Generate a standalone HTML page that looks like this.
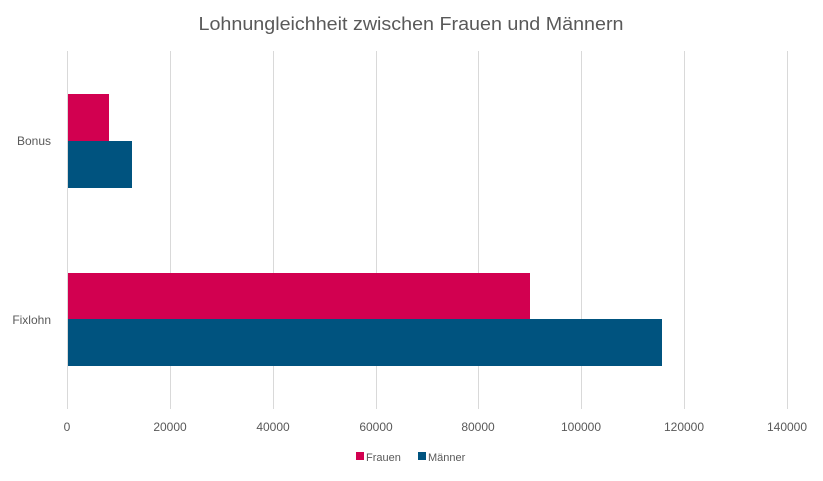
<!DOCTYPE html>
<html><head><meta charset="utf-8"><style>
body{margin:0;background:#fff;}
svg text{font-family:"Liberation Sans",sans-serif;fill:#595959;}
</style></head><body>
<svg width="823" height="476" xmlns="http://www.w3.org/2000/svg">
<rect width="823" height="476" fill="#fff"/>
<text x="411" y="30" font-size="18" text-anchor="middle" textLength="425" lengthAdjust="spacingAndGlyphs">Lohnungleichheit zwischen Frauen und Männern</text>
<g stroke="#d9d9d9" stroke-width="1">
<line x1="67.5" y1="51" x2="67.5" y2="409"/>
<line x1="170.5" y1="51" x2="170.5" y2="409"/>
<line x1="273.5" y1="51" x2="273.5" y2="409"/>
<line x1="376.5" y1="51" x2="376.5" y2="409"/>
<line x1="478.5" y1="51" x2="478.5" y2="409"/>
<line x1="581.5" y1="51" x2="581.5" y2="409"/>
<line x1="684.5" y1="51" x2="684.5" y2="409"/>
<line x1="787.5" y1="51" x2="787.5" y2="409"/>
</g>
<rect x="68" y="94" width="41" height="47" fill="#d20050"/>
<rect x="68" y="141" width="64" height="47" fill="#00537f"/>
<rect x="68" y="273" width="462" height="46" fill="#d20050"/>
<rect x="68" y="319" width="594" height="47" fill="#00537f"/>
<text x="51" y="145" font-size="12" text-anchor="end">Bonus</text>
<text x="51" y="324" font-size="12" text-anchor="end">Fixlohn</text>
<g font-size="12" text-anchor="middle">
<text x="67" y="431">0</text><text x="170" y="431">20000</text><text x="273" y="431">40000</text>
<text x="376" y="431">60000</text><text x="478" y="431">80000</text><text x="581" y="431">100000</text>
<text x="684" y="431">120000</text><text x="787" y="431">140000</text>
</g>
<rect x="356" y="452" width="8" height="8" fill="#d20050"/>
<text x="366" y="461" font-size="11">Frauen</text>
<rect x="418" y="452" width="8" height="8" fill="#00537f"/>
<text x="428" y="461" font-size="11">Männer</text>
</svg>
</body></html>
